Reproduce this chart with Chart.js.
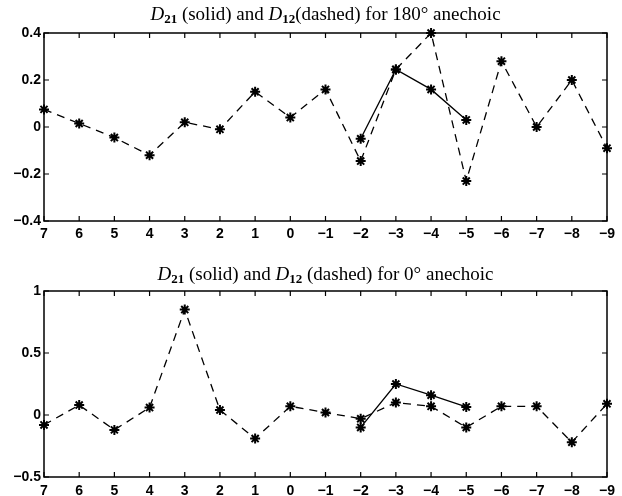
<!DOCTYPE html>
<html>
<head>
<meta charset="utf-8">
<script src="https://cdn.jsdelivr.net/npm/chart.js@4/dist/chart.umd.min.js"></script>
<style>
  html, body { margin: 0; padding: 0; background: #fff; }
  #wrap { position: relative; width: 622px; height: 496px; }
  canvas { position: absolute; left: 0; }
  #top { top: 0; }
  #bottom { top: 250px; }
</style>
</head>
<body>
<div id="wrap">
  <canvas id="top" width="622" height="250"></canvas>
  <canvas id="bottom" width="622" height="246"></canvas>
</div>
<script>
// x categories (microphone positions)
const positions = ['7', '6', '5', '4', '3', '2', '1', '0', '\u22121', '\u22122', '\u22123', '\u22124', '\u22125', '\u22126', '\u22127', '\u22128', '\u22129'];

// 180 degree anechoic
const d12_180 = [0.075, 0.015, -0.045, -0.12, 0.02, -0.01, 0.15, 0.04, 0.16, -0.145, 0.245, 0.4, -0.23, 0.28, 0, 0.2, -0.09];
const d21_180 = [null, null, null, null, null, null, null, null, null, -0.05, 0.245, 0.16, 0.03, null, null, null, null];
const yTicks_180 = [-0.4, -0.2, 0, 0.2, 0.4];

// 0 degree anechoic
const d12_0 = [-0.08, 0.08, -0.12, 0.06, 0.85, 0.04, -0.19, 0.07, 0.02, -0.03, 0.1, 0.07, -0.1, 0.07, 0.07, -0.22, 0.09];
const d21_0 = [null, null, null, null, null, null, null, null, null, -0.1, 0.25, 0.16, 0.065, null, null, null, null];
const yTicks_0 = [-0.5, 0, 0.5, 1];

const title_180 = [['D', 'it'], ['21', 'sub'], [' (solid) and ', 'rm'], ['D', 'it'], ['12', 'sub'], ['(dashed) for 180\u00b0 anechoic', 'rm']];
const title_0 = [['D', 'it'], ['21', 'sub'], [' (solid) and ', 'rm'], ['D', 'it'], ['12', 'sub'], [' (dashed) for 0\u00b0 anechoic', 'rm']];

const fonts = {
  it: 'italic 19px "Liberation Serif"',
  rm: '19px "Liberation Serif"',
  sub: 'bold 13px "Liberation Serif"'
};

function fmt(v) {
  return String(v).replace('-', '\u2212');
}

// box, inward ticks and the mixed-font title
const framePlugin = {
  id: 'frame',
  afterDraw(chart, args, opts) {
    const ctx = chart.ctx;
    const a = chart.chartArea;
    const xs = chart.scales.x;
    const ys = chart.scales.y;
    ctx.save();
    ctx.strokeStyle = '#000';
    ctx.lineWidth = 1.5;
    ctx.strokeRect(a.left, a.top, a.right - a.left, a.bottom - a.top);
    ctx.lineWidth = 1.2;
    ctx.beginPath();
    xs.ticks.forEach((t, i) => {
      const px = xs.getPixelForValue(i);
      ctx.moveTo(px, a.bottom); ctx.lineTo(px, a.bottom - 5);
      ctx.moveTo(px, a.top); ctx.lineTo(px, a.top + 5);
    });
    ys.ticks.forEach(t => {
      const py = ys.getPixelForValue(t.value);
      ctx.moveTo(a.left, py); ctx.lineTo(a.left + 5, py);
      ctx.moveTo(a.right, py); ctx.lineTo(a.right - 5, py);
    });
    ctx.stroke();

    // title
    const parts = opts.parts;
    let w = 0;
    parts.forEach(p => { ctx.font = fonts[p[1]]; w += ctx.measureText(p[0]).width; });
    let x = (a.left + a.right) / 2 - w / 2;
    ctx.fillStyle = '#000';
    ctx.textBaseline = 'alphabetic';
    parts.forEach(p => {
      ctx.font = fonts[p[1]];
      ctx.fillText(p[0], x, opts.baseline + (p[1] === 'sub' ? 3 : 0));
      x += ctx.measureText(p[0]).width;
    });
    ctx.restore();
  }
};

function makeChart(id, dashed, solid, yTicks, titleParts, padTop, axisH, titleBase, labelPad) {
  const ds = (data, dash) => ({
    data: data,
    borderColor: '#000',
    backgroundColor: '#000',
    borderWidth: 1.3,
    borderDash: dash,
    pointStyle: 'star',
    pointRadius: 5,
    pointBorderWidth: 2,
    pointBorderColor: '#000',
    fill: false,
    tension: 0,
    clip: false
  });
  return new Chart(document.getElementById(id), {
    type: 'line',
    data: {
      labels: positions,
      datasets: [ds(dashed, [8, 6]), ds(solid, [])]
    },
    options: {
      responsive: false,
      animation: false,
      devicePixelRatio: 1,
      layout: { padding: { top: padTop, left: 0, right: 15, bottom: 0 } },
      plugins: {
        legend: { display: false },
        tooltip: { enabled: false },
        frame: { parts: titleParts, baseline: titleBase }
      },
      scales: {
        x: {
          offset: false,
          grid: { display: false, drawTicks: false },
          border: { display: false },
          ticks: {
            color: '#000', padding: labelPad, maxRotation: 0, autoSkip: false,
            font: { family: '"Liberation Sans"', size: 14, weight: 'bold' }
          },
          afterFit(s) { s.height = axisH; }
        },
        y: {
          min: yTicks[0],
          max: yTicks[yTicks.length - 1],
          afterBuildTicks(s) { s.ticks = yTicks.map(v => ({ value: v })); },
          grid: { display: false, drawTicks: false },
          border: { display: false },
          ticks: {
            color: '#000', padding: 3,
            font: { family: '"Liberation Sans"', size: 14, weight: 'bold' },
            callback: v => fmt(v)
          },
          afterFit(s) { s.width = 44; }
        }
      }
    },
    plugins: [framePlugin]
  });
}

makeChart('top', d12_180, d21_180, yTicks_180, title_180, 33, 29, 20, 5);
makeChart('bottom', d12_0, d21_0, yTicks_0, title_0, 41, 19, 30, 6);
</script>
</body>
</html>
